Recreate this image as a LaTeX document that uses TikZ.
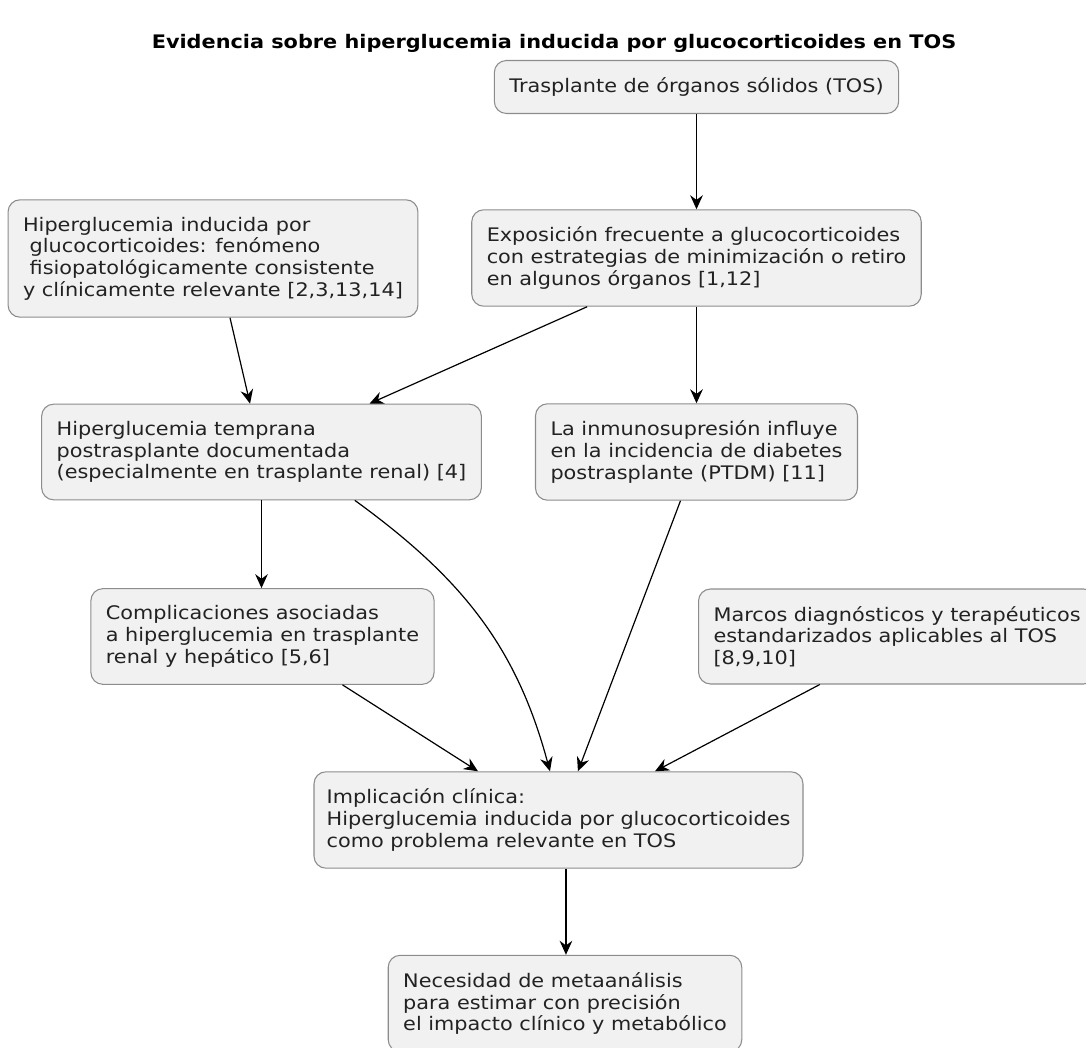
\documentclass[tikz,border=0pt]{standalone}
\usepackage{fontspec}
\setmainfont[FakeStretch=1.115]{DejaVu Sans}
\usetikzlibrary{arrows.meta,positioning}
\definecolor{boxfill}{HTML}{F1F1F1}
\definecolor{boxline}{HTML}{8C8C8C}
\definecolor{inktxt}{HTML}{222222}
\tikzset{
  box/.style={rectangle,rounded corners=9pt,draw=boxline,fill=boxfill,
              line width=0.8pt,font=\fontsize{14}{16.3}\selectfont,
              align=left,text=inktxt,inner xsep=11.25pt,inner ysep=12.8pt},
  arr/.style={-{Stealth[length=10.5pt,width=9.5pt,inset=3.5pt]},
              line width=0.9pt,color=black},
  ttl/.style={font=\fontsize{14}{16}\selectfont\bfseries,text=black},
}

\begin{document}
\begin{tikzpicture}[x=0.75pt,y=-0.75pt]
  \useasboundingbox (0,0) rectangle (1086,1048);
  \clip (0,0) rectangle (1086,1048);
  \node[ttl] (title) at (554,43)
    {Evidencia sobre hiperglucemia inducida por glucocorticoides en TOS};

  \node[box] (tos) at (696.5,87) {Trasplante de órganos sólidos (TOS)};
  \node[box] (expo) at (696.5,258)
    {Exposición frecuente a glucocorticoides\\
     con estrategias de minimización o retiro\\
     en algunos órganos [1,12]};
  \node[box] (hind) at (213,258.5)
    {Hiperglucemia inducida por\\
     \mbox{}\ glucocorticoides: fenómeno\\
     \mbox{}\ fisiopatológicamente consistente\\
     y clínicamente relevante [2,3,13,14]};
  \node[box] (temp) at (261.5,452)
    {Hiperglucemia temprana\\
     postrasplante documentada\\
     (especialmente en trasplante renal) [4]};
  \node[box] (inmu) at (696.5,452)
    {La inmunosupresión influye\\
     en la incidencia de diabetes\\
     postrasplante (PTDM) [11]};
  \node[box] (comp) at (262.5,636.5)
    {Complicaciones asociadas\\
     a hiperglucemia en trasplante\\
     renal y hepático [5,6]};
  \node[box,anchor=west] (marc) at (698,636.5)
    {Marcos diagnósticos y terapéuticos\\
     estandarizados aplicables al TOS\\
     \relax[8,9,10]};
  \node[box,inner xsep=9.5pt] (impl) at (558.5,820)
    {Implicación clínica:\\
     Hiperglucemia inducida por glucocorticoides\\
     como problema relevante en TOS};
  \node[box] (nece) at (565,1003.5)
    {Necesidad de metaanálisis\\
     para estimar con precisión\\
     el impacto clínico y metabólico};

  % connectors
  \draw[arr] (tos) -- (expo);
  \draw[arr] ([xshift=12.75pt]hind.south) -- ([xshift=-8.6pt]temp.north);
  \draw[arr] ([xshift=-82pt]expo.south) -- ([xshift=81pt]temp.north);
  \draw[arr] (expo) -- (inmu);
  \draw[arr] (temp.south) -- (temp.south |- comp.north);
  \draw[arr] ([xshift=70pt]temp.south) to[out=-36,in=105]
    ([xshift=-6.4pt]impl.north);
  \draw[arr] ([xshift=-12pt]inmu.south) -- ([xshift=14.6pt]impl.north);
  \draw[arr] ([xshift=60pt]comp.south) -- ([xshift=-60.4pt]impl.north);
  \draw[arr] ([xshift=-58pt]marc.south) -- ([xshift=72.4pt]impl.north);
  \draw[arr] ([xshift=5.6pt]impl.south) -- ([xshift=5.6pt]impl.south |- nece.north);
\end{tikzpicture}
\end{document}
